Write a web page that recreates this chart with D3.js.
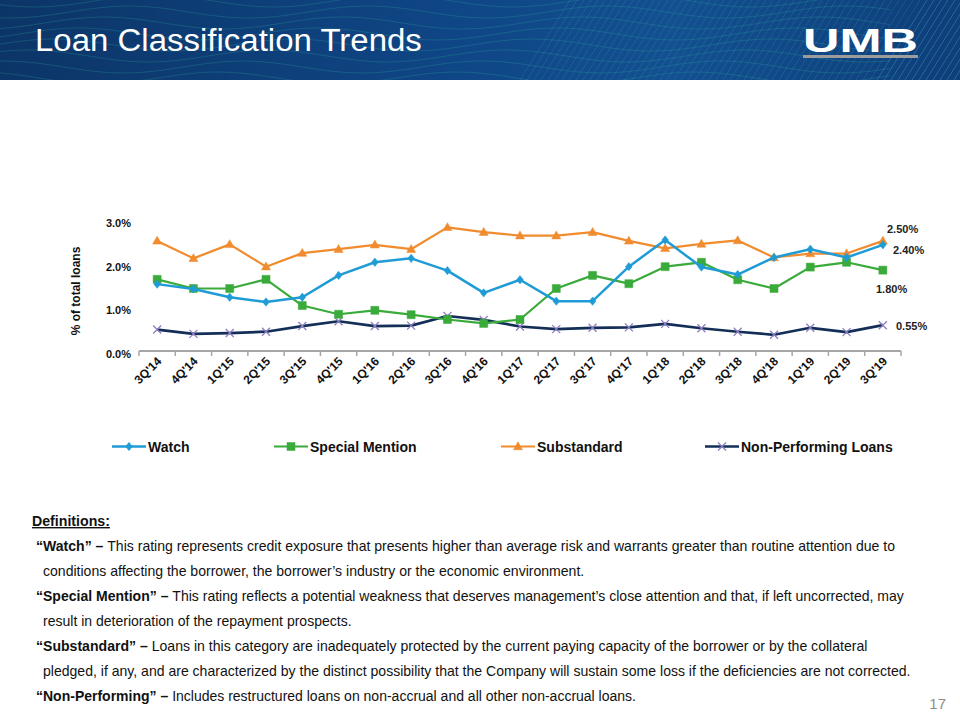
<!DOCTYPE html>
<html><head><meta charset="utf-8">
<script src="https://cdn.jsdelivr.net/npm/d3@7"></script>
<style>html,body{margin:0;padding:0;background:#fff;}svg{display:block;}</style>
</head><body>
<svg id="c" width="960" height="720"></svg>
<script>
const categories = ["3Q'14","4Q'14","1Q'15","2Q'15","3Q'15","4Q'15","1Q'16","2Q'16","3Q'16","4Q'16","1Q'17","2Q'17","3Q'17","4Q'17","1Q'18","2Q'18","3Q'18","4Q'18","1Q'19","2Q'19","3Q'19"];
const watch = [1.52,1.41,1.22,1.11,1.22,1.72,2.02,2.11,1.83,1.32,1.62,1.13,1.13,1.92,2.53,1.91,1.74,2.13,2.32,2.13,2.42];
const specialMention = [1.63,1.42,1.42,1.63,1.03,0.83,0.92,0.82,0.71,0.62,0.71,1.42,1.72,1.53,1.92,2.02,1.62,1.42,1.91,2.02,1.84];
const substandard = [2.51,2.11,2.43,1.92,2.23,2.32,2.42,2.32,2.82,2.71,2.63,2.63,2.71,2.51,2.34,2.44,2.52,2.13,2.22,2.22,2.51];
const nonPerforming = [0.48,0.38,0.40,0.43,0.56,0.67,0.56,0.57,0.79,0.70,0.55,0.49,0.52,0.53,0.61,0.51,0.43,0.36,0.52,0.42,0.58];
const seriesNames = ["Watch","Special Mention","Substandard","Non-Performing Loans"];
const endLabels = ["2.40%","1.80%","2.50%","0.55%"];
const yTicks = [0,1,2,3];
const title = "Loan Classification Trends";
const axisTitle = "% of total loans";
const definitions = [
  [["“Watch” – ",true],["This rating represents credit exposure that presents higher than average risk and warrants greater than routine attention due to",false]],
  [["conditions affecting the borrower, the borrower’s industry or the economic environment.",false]],
  [["“Special Mention” – ",true],["This rating reflects a potential weakness that deserves management’s close attention and that, if left uncorrected, may",false]],
  [["result in deterioration of the repayment prospects.",false]],
  [["“Substandard” – ",true],["Loans in this category are inadequately protected by the current paying capacity of the borrower or by the collateral",false]],
  [["pledged, if any, and are characterized by the distinct possibility that the Company will  sustain some loss if the deficiencies are not corrected.",false]],
  [["“Non-Performing” – ",true],["Includes restructured loans on non-accrual and all other non-accrual loans.",false]]
];
const pageNumber = "17";

const svg = d3.select("#c");
const defs = svg.append("defs");

// ---------- header ----------
const hg = defs.append("linearGradient").attr("id","hg").attr("x1","0").attr("x2","1").attr("y1","0").attr("y2","0");
hg.append("stop").attr("offset","0").attr("stop-color","#0c3567");
hg.append("stop").attr("offset","0.45").attr("stop-color","#0f4584");
hg.append("stop").attr("offset","0.7").attr("stop-color","#12508f");
hg.append("stop").attr("offset","1").attr("stop-color","#0d3f78");
svg.append("rect").attr("x",0).attr("y",0).attr("width",960).attr("height",80).attr("fill","url(#hg)");
const deco = svg.append("g").attr("clip-path","url(#hclip)");
defs.append("clipPath").attr("id","hclip").append("rect").attr("width",960).attr("height",80);
// waves
for (let k=0;k<9;k++){
  const pts=d3.range(0,900,10).map(x=>[x, -10+k*11+6*Math.sin((x+k*25)/38)]);
  deco.append("path").attr("d",d3.line()(pts)).attr("fill","none").attr("stroke","#2aa69a").attr("stroke-opacity",0.28).attr("stroke-width",1);
}
// diagonal lines
for (let x=520;x<1000;x+=7){
  deco.append("line").attr("x1",x).attr("y1",80).attr("x2",x+50).attr("y2",0).attr("stroke","#5aa8e6").attr("stroke-opacity",x>870?0.35:0.18).attr("stroke-width",1);
}
const tt = svg.append("text").attr("x",0).attr("y",0).attr("fill","#fff")
  .attr("font-family","Liberation Sans, Arial, sans-serif").attr("font-size",31).text(title);
{ const w = tt.node().getBBox().width; tt.attr("transform",`translate(35,50.5) scale(${387/w},1)`); }
// logo
const lg = svg.append("text").attr("fill","#fff").attr("font-family","Liberation Sans, Arial, sans-serif")
  .attr("font-weight",900).attr("font-size",33).text("UMB");
{ const w = lg.node().getBBox().width; lg.attr("transform",`translate(803,52) scale(${115/w},1)`); }
svg.append("rect").attr("x",803).attr("y",55).attr("width",115).attr("height",3).attr("fill","#9c9c9c");

// ---------- chart ----------
const x = d3.scaleBand().domain(categories).range([139,901]);
const y = d3.scaleLinear().domain([0,3]).range([350.5,219.5]);
const cx = d => x(d)+x.bandwidth()/2;
const font = "Liberation Sans, Arial, sans-serif";

// y labels
svg.append("g").selectAll("text").data(yTicks).join("text")
  .attr("x",131).attr("y",d=>y(d)+7.5).attr("text-anchor","end")
  .attr("font-family",font).attr("font-weight","bold").attr("font-size",11).attr("fill","#111")
  .text(d=>d3.format(".1f")(d)+"%");
svg.append("text").attr("transform","translate(80,291) rotate(-90)").attr("text-anchor","middle")
  .attr("font-family",font).attr("font-weight","bold").attr("font-size",12).attr("fill","#111").text(axisTitle);

// x axis
const ax = svg.append("g").attr("transform","translate(0,351)");
ax.append("line").attr("x1",x.range()[0]).attr("x2",x.range()[1]).attr("stroke","#a6a6a6").attr("stroke-width",2);
ax.selectAll("line.t").data(categories.map(c=>x(c)).concat([x.range()[1]])).join("line").attr("class","t")
  .attr("x1",d=>d).attr("x2",d=>d).attr("y1",0).attr("y2",5).attr("stroke","#a6a6a6").attr("stroke-width",1.5);
ax.selectAll("text").data(categories).join("text")
  .attr("transform",d=>`translate(${cx(d)+5},${11}) rotate(-45)`).attr("text-anchor","end")
  .attr("font-family",font).attr("font-weight","bold").attr("font-size",12).attr("fill","#111").text(d=>d);

const symbols = {
  diamond: s=>`M0,${-s}L${s*0.8},0L0,${s}L${-s*0.8},0Z`,
  square: s=>`M${-s},${-s}H${s}V${s}H${-s}Z`,
  triangle: s=>`M0,${-s*1.1}L${s*1.05},${s*0.75}L${-s*1.05},${s*0.75}Z`,
  cross: s=>`M${-s},${-s}L${s},${s}M${-s},${s}L${s},${-s}`
};
const series = [
  {name:seriesNames[0], values:watch, color:"#1f9bd6", mcolor:"#1f9bd6", sym:"diamond", ms:4.2, lw:2.5},
  {name:seriesNames[1], values:specialMention, color:"#3aab3a", mcolor:"#3aab3a", sym:"square", ms:4, lw:2.2},
  {name:seriesNames[2], values:substandard, color:"#f08b2e", mcolor:"#f08b2e", sym:"triangle", ms:4.3, lw:2.2},
  {name:seriesNames[3], values:nonPerforming, color:"#132f58", mcolor:"#8d7fc2", sym:"cross", ms:4, lw:2.7}
];
const line = d3.line().x((d,i)=>cx(categories[i])).y(d=>y(d));
const drawOrder = [3,2,1,0];
drawOrder.forEach(si=>{
  const s = series[si];
  const g = svg.append("g");
  g.append("path").attr("d",line(s.values)).attr("fill","none").attr("stroke",s.color).attr("stroke-width",s.lw).attr("stroke-linejoin","round");
  g.selectAll("path.m").data(s.values).join("path").attr("class","m")
    .attr("transform",(d,i)=>`translate(${cx(categories[i])},${y(d)})`)
    .attr("d",symbols[s.sym](s.ms))
    .attr("fill",s.sym==="cross"?"none":s.mcolor)
    .attr("stroke",s.mcolor).attr("stroke-width",s.sym==="cross"?1.3:0.5);
});
// end labels
const endPos = [[893,254],[876,293],[887,233],[896,330]];
endLabels.forEach((t,i)=>{
  svg.append("text").attr("x",endPos[i][0]).attr("y",endPos[i][1])
    .attr("font-family",font).attr("font-weight","bold").attr("font-size",11).attr("fill","#222").text(t);
});

// legend
const legX = [112,274,501,705];
const legY = 446.5;
series.forEach((s,i)=>{
  const g = svg.append("g").attr("transform",`translate(${legX[i]},${legY})`);
  g.append("line").attr("x1",0).attr("x2",34).attr("stroke",s.color).attr("stroke-width",s.lw);
  g.append("path").attr("transform","translate(17,0)").attr("d",symbols[s.sym](s.ms))
    .attr("fill",s.sym==="cross"?"none":s.mcolor).attr("stroke",s.mcolor).attr("stroke-width",s.sym==="cross"?1.3:0.5);
  g.append("text").attr("x",36).attr("y",5).attr("font-family",font).attr("font-weight","bold").attr("font-size",14).attr("fill","#111").text(s.name);
});

// definitions
const dfont = "Liberation Sans Narrow, Arial Narrow, Liberation Sans, Arial, sans-serif";
const dh = svg.append("text").attr("font-family",dfont).attr("font-weight","bold").attr("font-size",14)
  .attr("fill","#111").attr("text-decoration","underline").text("Definitions:");
{ const w = dh.node().getBBox().width; dh.attr("transform",`translate(32,526) scale(${78/w},1)`); }
const lineX = [36,43,36,43,36,43,36];
const lineEnd = [896,585,905,352,868,911,636];
definitions.forEach((segs,i)=>{
  const t = svg.append("text").attr("font-family",dfont).attr("font-size",14).attr("fill","#111");
  segs.forEach(([txt,b])=>t.append("tspan").attr("font-weight",b?"bold":"normal").text(txt));
  const w = t.node().getBBox().width;
  t.attr("transform",`translate(${lineX[i]},${551+i*25}) scale(${(lineEnd[i]-lineX[i])/w},1)`);
});
svg.append("text").attr("x",946).attr("y",709).attr("text-anchor","end").attr("font-family",font)
  .attr("font-size",15).attr("fill","#8c8c8c").text(pageNumber);
</script>
</body></html>
